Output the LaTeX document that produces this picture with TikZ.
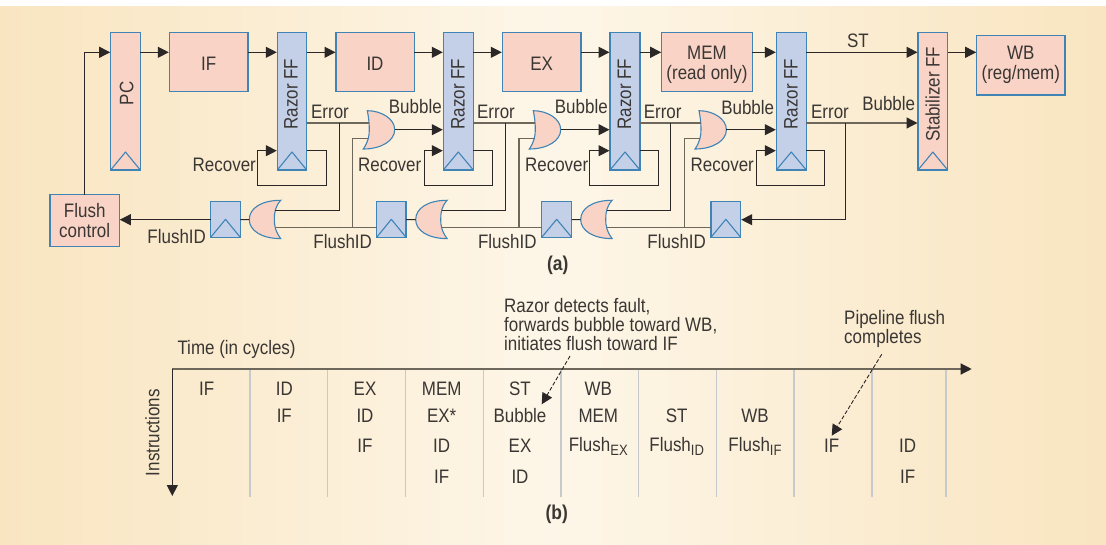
\documentclass[tikz,border=0pt]{standalone}
\usepackage{fontspec}
\setmainfont[FakeStretch=0.87]{Liberation Sans}
\usetikzlibrary{arrows.meta}
\definecolor{bgedge}{HTML}{F9E5C0}
\definecolor{bgmid}{HTML}{FDF6E8}
\definecolor{pinkf}{HTML}{F9D3C6}
\definecolor{bluef}{HTML}{C3D0E8}
\definecolor{edgeb}{HTML}{3F84B5}
\definecolor{ink}{HTML}{2A2726}
\definecolor{greyl}{HTML}{6E675C}
\definecolor{gridl}{HTML}{C6CACD}
\definecolor{txt}{HTML}{3A3633}
\tikzset{
  lab/.style={font=\fontsize{19.5}{20}\selectfont,text=txt,inner sep=0pt,align=center},
  labl/.style={font=\fontsize{19.5}{19}\selectfont,text=txt,inner sep=0pt,align=left,anchor=west},
  boldlab/.style={font=\fontsize{20}{20}\selectfont\bfseries,text=txt,inner sep=0pt},
  blockbox/.style={draw=edgeb,line width=1.2pt,inner sep=0pt,outer sep=0pt},
  wire/.style={draw=ink,line width=1pt},
  gwire/.style={draw=greyl,line width=1.3pt},
  arr/.style={wire,-{Triangle[length=11pt,width=11pt,color=ink,fill=ink]},shorten >=0.5pt},
  garr/.style={gwire,-{Triangle[length=11pt,width=11pt,color=ink,fill=ink]},shorten >=0.5pt},
  dasharr/.style={draw=ink,line width=0.9pt,dash pattern=on 4pt off 2pt,-{Triangle[length=11pt,width=11pt]}},
  gridline/.style={draw=gridl,line width=1.5pt},
  orR/.pic={
    \path[draw=edgeb,fill=pinkf,line width=1.1pt] (4,0) .. controls (18,0) and (31.4,8) .. (31.4,19)
      .. controls (31.4,30) and (18,38.3) .. (0,38.3)
      .. controls (5,31) and (6,25) .. (6,19) .. controls (6,11) and (5,5) .. (4,0) -- cycle;
    \coordinate (-a) at (5.5,12.3);
    \coordinate (-b) at (5,27.6);
    \coordinate (-o) at (31.4,19);
  },
  orL/.pic={
    \path[draw=edgeb,fill=pinkf,line width=1.1pt] (31.4,0) .. controls (12,0) and (0,8) .. (0,19.3)
      .. controls (0,30) and (12,38.3) .. (31.4,38.3)
      .. controls (26,31) and (25,25) .. (25,19.3) .. controls (25,12) and (26,6) .. (31.4,0) -- cycle;
    \coordinate (-a) at (26,10.4);
    \coordinate (-b) at (26.5,27);
    \coordinate (-o) at (0,19.3);
  }
}
\newcommand{\plainbox}[6]{\node[blockbox,fill=#6,minimum width={(#4-#2)*1pt},minimum height={(#5-#3)*1pt}] (#1) at ({(#2+#4)/2},{(#3+#5)/2}) {};}
\newcommand{\clockbox}[6]{\plainbox{#1}{#2}{#3}{#4}{#5}{#6}
  \draw[edgeb,line width=1.1pt,line join=round] (#1.south west) -- ([yshift=18pt]#1.south) -- (#1.south east);}
\begin{document}
\begin{tikzpicture}[x=1pt,y=-1pt]
\useasboundingbox (0,0) rectangle (1106,544);
\fill[white] (0,0) rectangle (1106,544);
\shade[left color=bgedge,right color=bgedge,middle color=bgmid] (0,6) rectangle (1106,544);

% y levels
\coordinate (top) at (0,52.3);
\coordinate (err) at (0,123);
\coordinate (bub) at (0,129.7);
\coordinate (inb) at (0,138.3);
\coordinate (rec) at (0,150.7);
\coordinate (ffl) at (0,219.7);
\coordinate (upb) at (0,210.7);
\coordinate (lob) at (0,227.3);
\coordinate (lop) at (0,185.7);

% boxes
\clockbox{pc}{110.7}{32.7}{140.3}{170}{pinkf}
\plainbox{if}{169.3}{32.7}{248}{91.7}{pinkf}
\clockbox{r1}{277.3}{32.7}{306.7}{170}{bluef}
\plainbox{id}{336}{32.7}{414.3}{91.7}{pinkf}
\clockbox{r2}{443.3}{32.7}{473.3}{170}{bluef}
\plainbox{ex}{502.3}{32.7}{581}{91.7}{pinkf}
\clockbox{r3}{610}{32.7}{640}{170}{bluef}
\plainbox{mem}{661.7}{32.7}{752.3}{91.7}{pinkf}
\clockbox{r4}{776.3}{32.7}{806.3}{170}{bluef}
\clockbox{st}{918}{32.7}{947.7}{170}{pinkf}
\plainbox{wb}{976.7}{35.7}{1065}{95}{pinkf}
\plainbox{fc}{50}{194.7}{119.3}{246.7}{pinkf}
\clockbox{f1}{210.7}{201.7}{240.3}{237.3}{bluef}
\clockbox{f2}{376.7}{201.7}{406}{237.3}{bluef}
\clockbox{f3}{541.7}{201.7}{571.7}{237.3}{bluef}
\clockbox{f4}{711}{201.7}{740.7}{237.3}{bluef}

% gates
\pic (ga) at (363.3,110.7) {orR};
\pic (gb) at (529.3,110.7) {orR};
\pic (gc) at (695,110.7) {orR};
\pic (ka) at (249.3,200.3) {orL};
\pic (kb) at (415.7,200.3) {orL};
\pic (kc) at (580.7,200.3) {orL};

% junction columns
\coordinate (ea) at (339.3,123);
\coordinate (eb) at (505.7,123);
\coordinate (ec) at (670.7,123);
\coordinate (ed) at (845.7,123);
\coordinate (ja) at (352.7,138.3);
\coordinate (jb) at (519,138.3);
\coordinate (jc) at (684.3,138.3);
\coordinate (la) at (326.3,185.7);
\coordinate (lb) at (257.3,185.7);
\coordinate (lc) at (492.7,185.7);
\coordinate (ld) at (424,185.7);
\coordinate (le) at (658.3,185.7);
\coordinate (lf) at (589.3,185.7);
\coordinate (lg) at (824.7,185.7);
\coordinate (lh) at (756,185.7);
\coordinate (fcup) at (84,194.7);

% top row
\draw[arr] (fc.north -| fcup) |- (pc.west |- top);
\draw[arr] (pc.east |- top) -- (if.west |- top);
\draw[arr] (if.east |- top) -- (r1.west |- top);
\draw[arr] (r1.east |- top) -- (id.west |- top);
\draw[arr] (id.east |- top) -- (r2.west |- top);
\draw[arr] (r2.east |- top) -- (ex.west |- top);
\draw[arr] (ex.east |- top) -- (r3.west |- top);
\draw[arr] (r3.east |- top) -- (mem.west |- top);
\draw[arr] (mem.east |- top) -- (r4.west |- top);
\draw[arr] (r4.east |- top) -- (st.west |- top);
\draw[arr] (st.east |- top) -- (wb.west |- top);

% recover loops
\draw[arr] (r1.east |- rec) -| (la) -- (lb) |- (r1.west |- rec);
\draw[arr] (r2.east |- rec) -| (lc) -- (ld) |- (r2.west |- rec);
\draw[arr] (r3.east |- rec) -| (le) -- (lf) |- (r3.west |- rec);
\draw[arr] (r4.east |- rec) -| (lg) -- (lh) |- (r4.west |- rec);

% error lines
\draw[gwire] (r1.east |- err) -- (ga-a);
\draw[gwire] (r2.east |- err) -- (gb-a);
\draw[gwire] (r3.east |- err) -- (gc-a);
\draw[garr] (r4.east |- err) -- (st.west |- err);
\draw[wire] (ea) |- (ka-a);
\draw[wire] (eb) |- (kb-a);
\draw[wire] (ec) |- (kc-a);
\draw[arr] (ed) |- (f4.east |- ffl);

% gate outputs
\draw[arr] (ga-o) -- (r2.west |- ga-o);
\draw[arr] (gb-o) -- (r3.west |- gb-o);
\draw[arr] (gc-o) -- (r4.west |- gc-o);

% gate lower inputs
\draw[gwire] (ga-b) -- (ja) -- (ja |- lob);
\draw[gwire] (gb-b) -- (jb) -- (jb |- lob);
\draw[gwire] (gc-b) -- (jc) -- (jc |- lob);
\draw[gwire] (ka-b) -- (f2.west |- lob);
\draw[gwire] (kb-b) -- (f3.west |- lob);
\draw[gwire] (kc-b) -- (f4.west |- lob);

% flush chain
\draw[wire] (f1.east |- ffl) -- (ka-o);
\draw[wire] (f2.east |- ffl) -- (kb-o);
\draw[wire] (f3.east |- ffl) -- (kc-o);
\draw[arr] (f1.west |- ffl) -- (fc.east |- ffl);

% block text
\node[lab,rotate=90] (tpc) at (126.7,93.3) {PC};
\node[lab] (tif) at (208.6,63.3) {IF};
\node[lab] (tid) at (375,63.3) {ID};
\node[lab] (tex) at (541.6,63.3) {EX};
\node[lab] (tmem) at (707,65) {MEM\\(read only)};
\node[lab] (twb) at (1020.8,64.7) {WB\\(reg/mem)};
\node[lab] (tfc) at (84.7,221) {Flush\\control};
\node[lab,rotate=90] (tr1) at (291,94) {Razor FF};
\node[lab,rotate=90] (tr2) at (458,94) {Razor FF};
\node[lab,rotate=90] (tr3) at (624.5,94) {Razor FF};
\node[lab,rotate=90] (tr4) at (791,94) {Razor FF};
\node[lab,rotate=90] (tst) at (932.7,94.3) {Stabilizer FF};

% signal labels
\node[lab] (e1) at (330,111.7) {Error};
\node[lab] (e2) at (496,111.7) {Error};
\node[lab] (e3) at (662.7,111.7) {Error};
\node[lab] (e4) at (830,111.7) {Error};
\node[lab] (b1) at (415.3,106.7) {Bubble};
\node[lab] (b2) at (581.3,106.7) {Bubble};
\node[lab] (b3) at (747.7,108) {Bubble};
\node[lab] (b4) at (888.7,104) {Bubble};
\node[lab] (sst) at (858,41) {ST};
\node[lab] (r1l) at (224.3,165) {Recover};
\node[lab] (r2l) at (389.7,165) {Recover};
\node[lab] (r3l) at (556.7,165) {Recover};
\node[lab] (r4l) at (722.3,165) {Recover};
\node[lab] (fl1) at (176.7,237) {FlushID};
\node[lab] (fl2) at (342.7,241.7) {FlushID};
\node[lab] (fl3) at (507.3,241.7) {FlushID};
\node[lab] (fl4) at (676.7,241.7) {FlushID};
\node[boldlab] (capa) at (557.7,265) {(a)};

% part b: axes
\coordinate (org) at (172.3,369);
\coordinate (xend) at (971.7,369);
\coordinate (yend) at (172.3,496);
\foreach \n/\x in {g1/250,g2/327.7,g3/405.3,g4/483.3,g5/561,g6/638.7,g7/716.3,g8/794,g9/872,g10/946}{
  \coordinate (\n a) at (\x,369);
  \coordinate (\n b) at (\x,496.7);
  \draw[gridline] (\n a) -- (\n b);
}
\draw[garr,shorten >=0pt] (org) -- (xend);
\draw[garr,draw=ink,shorten >=0pt] (org) -- (yend);
\node[lab,anchor=west] (ttime) at (177.3,349.3) {Time (in cycles)};
\node[lab,rotate=90] (tins) at (152.3,432.7) {Instructions};

% table
\node[lab] (c11) at (206.7,389) {IF};
\node[lab] (c21) at (284.3,389) {ID};
\node[lab] (c22) at (284.3,416) {IF};
\node[lab] (c31) at (365,389) {EX};
\node[lab] (c32) at (365,416) {ID};
\node[lab] (c33) at (365,445.7) {IF};
\node[lab] (c41) at (441.7,389) {MEM};
\node[lab] (c42) at (441.7,416) {EX*};
\node[lab] (c43) at (441.7,445.7) {ID};
\node[lab] (c44) at (441.7,476.7) {IF};
\node[lab] (c51) at (520,389) {ST};
\node[lab] (c52) at (520,416) {Bubble};
\node[lab] (c53) at (520,445.7) {EX};
\node[lab] (c54) at (520,476.7) {ID};
\node[lab] (c61) at (598.3,389) {WB};
\node[lab] (c62) at (598.3,416) {MEM};
\node[lab] (c63) at (598.3,446) {Flush\raisebox{-4pt}{\fontsize{15}{15}\selectfont EX}};
\node[lab] (c72) at (676.7,416) {ST};
\node[lab] (c73) at (676.7,446) {Flush\raisebox{-4pt}{\fontsize{15}{15}\selectfont ID}};
\node[lab] (c82) at (755,416) {WB};
\node[lab] (c83) at (755,446) {Flush\raisebox{-4pt}{\fontsize{15}{15}\selectfont IF}};
\node[lab] (c93) at (831.7,445.7) {IF};
\node[lab] (c103) at (907.7,445.7) {ID};
\node[lab] (c104) at (907.7,476.7) {IF};

% annotations
\node[labl] (note1) at (504,324.3) {Razor detects fault,\\forwards bubble toward WB,\\initiates flush toward IF};
\node[labl] (note2) at (844,328.8) {Pipeline flush\\completes};
\coordinate (d1s) at (570,356);
\coordinate (d1e) at (541.7,404.3);
\coordinate (d2s) at (881.7,354.3);
\coordinate (d2e) at (831.7,435.7);
\draw[dasharr] (d1s) -- (d1e);
\draw[dasharr] (d2s) -- (d2e);
\node[boldlab] (capb) at (556.7,514.3) {(b)};
\end{tikzpicture}
\end{document}
